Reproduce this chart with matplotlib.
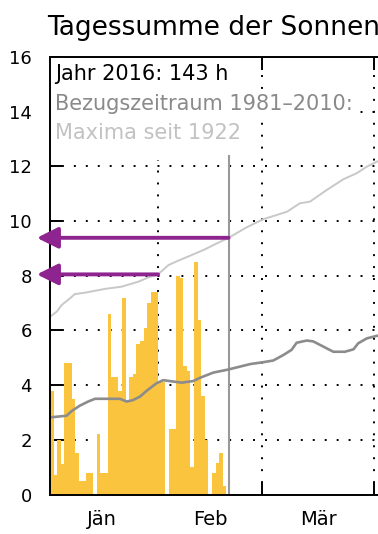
import matplotlib
matplotlib.use("Agg")
import matplotlib.pyplot as plt
import numpy as np
import pandas as pd
from matplotlib.patches import Rectangle

plt.rcParams["lines.scale_dashes"] = False
plt.rcParams["font.family"] = ["DejaVu Sans"]

# daily sunshine duration 2016 (hours), starting 2 Jan
sun_start = "2016-01-02"
sun_hours = [
    3.8, 0.7, 2.0, 1.1, 4.8, 4.8, 3.5, 1.5, 0.5, 0.5,
    0.8, 0.8, 0.0, 2.2, 0.8, 0.8, 6.6, 4.3, 4.3, 3.8,
    7.2, 3.4, 4.3, 4.4, 5.5, 5.6, 6.1, 7.0, 7.4, 7.4,
    4.1, 4.1, 0.0, 2.4, 2.4, 8.0, 7.9, 4.7, 4.5, 1.0,
    8.5, 6.4, 3.6, 2.0, 0.0, 0.8, 1.15, 1.5, 0.3,
]

# reference period 1981-2010 (day of year, hours)
mean_days = [1, 5.6, 7, 9.3, 11.6, 13.5, 20.4, 22.3, 24, 26, 27.9, 30.6, 32.4,
             37.6, 40.8, 42.7, 46.4, 50.5, 56.6, 60.3, 63, 65.8, 68.1, 69.5,
             72.3, 74.1, 76.9, 79.7, 82.9, 85.3, 86.6, 89, 91.7, 93]
mean_vals = [2.82, 2.88, 3.05, 3.25, 3.4, 3.5, 3.5, 3.4, 3.45, 3.58, 3.8, 4.07,
             4.18, 4.09, 4.15, 4.27, 4.46, 4.57, 4.77, 4.84, 4.9, 5.1, 5.29,
             5.55, 5.63, 5.6, 5.41, 5.22, 5.22, 5.31, 5.53, 5.71, 5.8, 5.82]

# maxima since 1922
max_days = [1, 2.9, 4.25, 6.6, 7.9, 10.7, 16.3, 20.9, 25.5, 28.3, 31, 33.9,
            36.6, 40.4, 44.1, 46.8, 50.5, 55.6, 60.3, 66.8, 70.4, 73.2, 77.9,
            82.5, 86.2, 89, 91.3, 93]
max_vals = [6.5, 6.69, 6.93, 7.18, 7.33, 7.38, 7.52, 7.6, 7.78, 7.94, 8.05,
            8.39, 8.55, 8.76, 8.97, 9.15, 9.38, 9.77, 10.07, 10.34, 10.65,
            10.71, 11.14, 11.53, 11.75, 11.99, 12.14, 12.25]

today = 50.6
today_top = 12.4
month_starts = [31, 60, 91]
month_mids = [15.5, 45.5, 75.5]
month_names = ["Jän", "Feb", "Mär"]
yticks = np.arange(0, 17, 2)

title = "Tagessumme der Sonnenscheindauer"
legend_rows = ["Jahr 2016: 143 h", "Bezugszeitraum 1981–2010:", "Maxima seit 1922"]
legend_colors = ["black", "#8a8a8a", "#c2c2c2"]

bar_color = "#fbc43f"
mean_color = "#8c8c8c"
max_color = "#c8c8c8"
arrow_color = "#8e2490"

x0 = (pd.Timestamp(sun_start) - pd.Timestamp("2016-01-01")).days
sun_x = x0 + np.arange(len(sun_hours))

fig = plt.figure(figsize=(3.78, 5.34), dpi=100)
ax = fig.add_axes([50 / 378, 39.5 / 534, 328 / 378, 437.5 / 534])
ax.set_axisbelow(True)

ax.bar(sun_x, sun_hours, width=1.0, align="edge", color=bar_color,
       linewidth=0, zorder=1)
ax.plot(mean_days, mean_vals, color=mean_color, lw=1.9, zorder=2)
ax.plot(max_days, max_vals, color=max_color, lw=1.4, zorder=2)
ax.vlines(today, 0, today_top, color="#999999", lw=1.5, zorder=1.5)

# arrows to the maxima at Feb 1 and today
for xd in [today, month_starts[0]]:
    yv = np.interp(xd, max_days, max_vals)
    ax.annotate("", xy=(-0.04, yv), xycoords=("axes fraction", "data"),
                xytext=(xd, yv), textcoords="data",
                arrowprops=dict(arrowstyle="-|>,head_length=0.4,head_width=0.2",
                                mutation_scale=32, color=arrow_color, lw=2.8,
                                shrinkA=0, shrinkB=0),
                annotation_clip=False, zorder=3)

ax.set_xlim(1.0, 92.1)
ax.set_ylim(0, 16)
ax.set_yticks(yticks)
ax.set_xticks(month_starts)
ax.set_xticklabels([])
ax.set_xticks(month_mids, minor=True)
ax.set_xticklabels(month_names, minor=True)

ax.grid(True, which="major", color="black", lw=1.4, linestyle=(0, (1.4, 7.2)))
ax.tick_params(axis="y", direction="in", length=8.6, width=1.4, pad=13,
               labelsize=13)
ax.tick_params(axis="x", which="major", direction="in", length=9, width=1.4,
               top=True)
ax.tick_params(axis="x", which="minor", length=0, pad=11, labelsize=14)

for side in ["left", "bottom", "top"]:
    ax.spines[side].set_linewidth(1.4)
ax.spines["right"].set_visible(False)

# white area behind the legend text
ax.add_patch(Rectangle((0, 0.765), 0.625, 0.235, transform=ax.transAxes,
                       facecolor="white", edgecolor="none", zorder=0.7))
for i, (txt, col) in enumerate(zip(legend_rows, legend_colors)):
    ax.text(0.015, 0.961 - i * 0.0675, txt, transform=ax.transAxes,
            va="center", ha="left", fontsize=15, color=col, zorder=3,
            bbox=dict(facecolor="white", edgecolor="none", pad=2))

fig.text(47 / 378, 1 - 35 / 534, title, fontsize=19, va="baseline", ha="left")

fig.savefig("out.png", dpi=100)
